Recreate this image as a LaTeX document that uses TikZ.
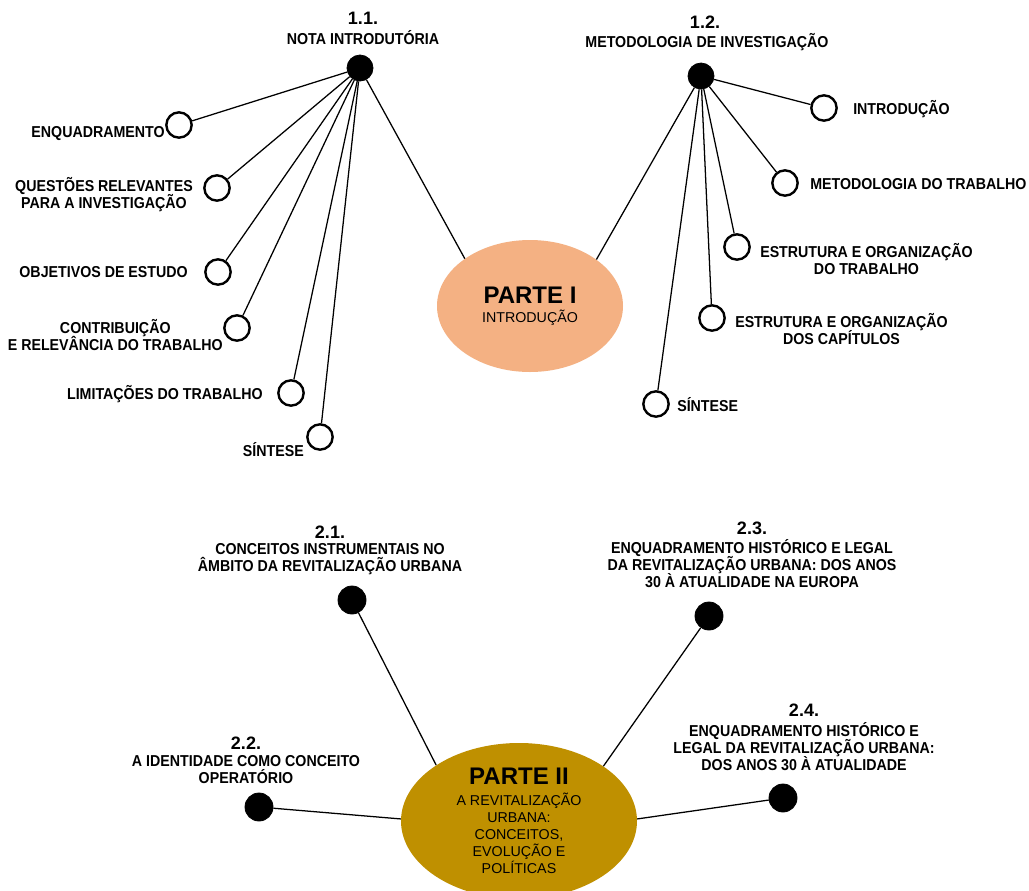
\documentclass[tikz,border=0pt]{standalone}
\usepackage{fontspec}
\setmainfont{Liberation Sans}
\newfontfamily\labfont[FakeStretch=0.9]{Liberation Sans}
\usetikzlibrary{shapes.geometric}
\definecolor{partI}{HTML}{F4B183}
\definecolor{partII}{HTML}{BF9000}
\begin{document}
\setlength{\lineskiplimit}{-20pt}
\begin{tikzpicture}[x=0.75pt,y=-0.75pt,
  hub/.style={circle,fill=black,draw=black,line width=0.6pt,minimum size=19.5pt,inner sep=0pt},
  hubb/.style={hub,minimum size=21pt},
  leaf/.style={circle,draw=black,fill=white,line width=1.8pt,minimum size=19pt,inner sep=0pt},
  lab/.style={font={\labfont\bfseries\fontsize{11.85}{12.75}\selectfont},align=center,inner sep=0pt},
  num/.style={font={\bfseries\fontsize{13.5}{15}\selectfont},inner sep=0pt},
  link/.style={line width=0.95pt,draw=black},
  part/.style={ellipse,inner sep=0pt,align=center,font={\fontsize{10.7}{12.9}\selectfont}}]
\useasboundingbox (0,0) rectangle (1029,890);
\fill[white] (0,0) rectangle (1029,890);

% ---------- PARTE I ----------
\node[part,fill=partI,minimum width=139.5pt,minimum height=99pt] (p1) at (530,306)
  {{\bfseries\fontsize{18}{18}\selectfont PARTE I}\\[1pt]INTRODUÇÃO};

% 1.1
\node[hub] (h11) at (360,68) {};
\node[num] (n11) at (363,18) {1.1.};
\node[lab] (t11) at (363,38) {NOTA INTRODUTÓRIA};
\node[leaf] (a1) at (179,125) {};
\node[leaf] (a2) at (217,188) {};
\node[leaf] (a3) at (218,272) {};
\node[leaf] (a4) at (237,328) {};
\node[leaf] (a5) at (291,393) {};
\node[leaf] (a6) at (320,437) {};
\node[lab,anchor=east] (la1) at (165,134) {ENQUADRAMENTO};
\node[lab,anchor=east] (la2) at (193,195) {QUESTÕES RELEVANTES\\PARA A INVESTIGAÇÃO};
\node[lab,anchor=east] (la3) at (188,272) {OBJETIVOS DE ESTUDO};
\node[lab,anchor=east] (la4) at (223,335) {CONTRIBUIÇÃO\\E RELEVÂNCIA DO TRABALHO};
\node[lab,anchor=east] (la5) at (263,394) {LIMITAÇÕES DO TRABALHO};
\node[lab,anchor=east] (la6) at (304,450) {SÍNTESE};
\foreach \c in {a1,a2,a3,a4,a5,a6} \draw[link] (h11) -- (\c);
\draw[link] (h11) -- (p1.144);

% 1.2
\node[hub] (h12) at (701,76) {};
\node[num] (n12) at (705,22) {1.2.};
\node[lab] (t12) at (707,42) {METODOLOGIA DE INVESTIGAÇÃO};
\node[leaf] (b1) at (824,108) {};
\node[leaf] (b2) at (785,183) {};
\node[leaf] (b3) at (737,247) {};
\node[leaf] (b4) at (712,318) {};
\node[leaf] (b5) at (656,404) {};
\node[lab,anchor=west] (lb1) at (853,109) {INTRODUÇÃO};
\node[lab,anchor=west] (lb2) at (810,184) {METODOLOGIA DO TRABALHO};
\node[lab,anchor=west] (lb3) at (760,259) {ESTRUTURA E ORGANIZAÇÃO\\DO TRABALHO};
\node[lab,anchor=west] (lb4) at (735,329) {ESTRUTURA E ORGANIZAÇÃO\\DOS CAPÍTULOS};
\node[lab,anchor=west] (lb5) at (677,405) {SÍNTESE};
\foreach \c in {b1,b2,b3,b4,b5} \draw[link] (h12) -- (\c);
\draw[link] (h12) -- (p1.35);

% ---------- PARTE II ----------
\node[part,fill=partII,minimum width=177pt,minimum height=117pt] (p2) at (519,821)
  {{\bfseries\fontsize{18}{18}\selectfont PARTE II}\\[2.5pt]A REVITALIZAÇÃO\\URBANA:\\CONCEITOS,\\EVOLUÇÃO E\\POLÍTICAS};

\node[hubb] (h21) at (352,600) {};
\node[num] (n21) at (330,532) {2.1.};
\node[lab] (t21) at (330,559.5) {CONCEITOS INSTRUMENTAIS NO\\ÂMBITO DA REVITALIZAÇÃO URBANA};

\node[hubb] (h22) at (259,807) {};
\node[num] (n22) at (246,743) {2.2.};
\node[lab] (t22) at (246,769.5) {A IDENTIDADE COMO CONCEITO\\OPERATÓRIO};

\node[hubb] (h23) at (709,616) {};
\node[num] (n23) at (752,528) {2.3.};
\node[lab] (t23) at (752,564) {ENQUADRAMENTO HISTÓRICO E LEGAL\\DA REVITALIZAÇÃO URBANA: DOS ANOS\\30 À ATUALIDADE NA EUROPA};

\node[hubb] (h24) at (783,798) {};
\node[num] (n24) at (804,710) {2.4.};
\node[lab] (t24) at (804,747) {ENQUADRAMENTO HISTÓRICO E\\LEGAL DA REVITALIZAÇÃO URBANA:\\DOS ANOS 30 À ATUALIDADE};

\draw[link] (h21) -- (p2.146);
\draw[link] (h22) -- (p2.179);
\draw[link] (h23) -- (p2.33);
\draw[link] (h24) -- (p2.1);
\end{tikzpicture}
\end{document}
